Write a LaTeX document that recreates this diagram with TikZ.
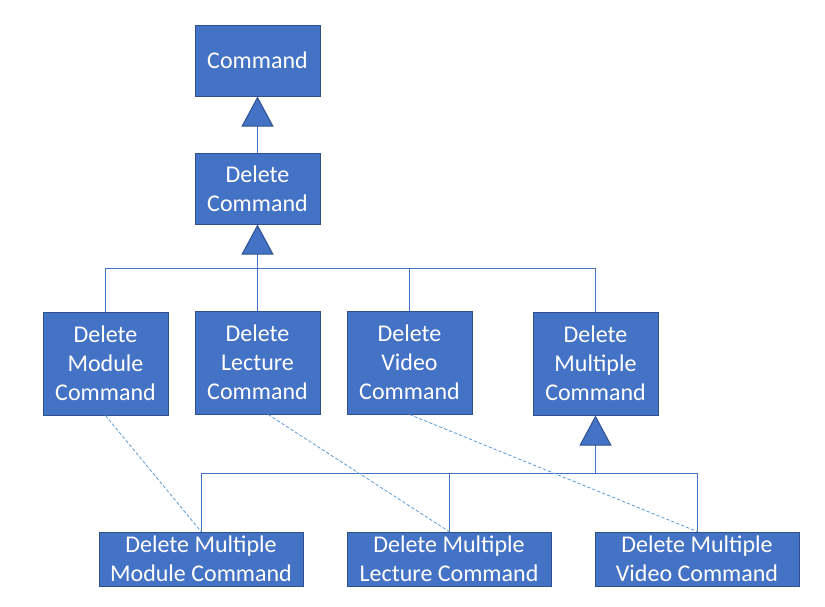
\documentclass[tikz,border=0pt]{standalone}
\usepackage{fontspec}
\setmainfont{Carlito}
\usetikzlibrary{arrows.meta}
\definecolor{boxblue}{HTML}{4472C4}
\definecolor{boxline}{HTML}{2F528F}
\definecolor{dashblue}{HTML}{5B9BD5}

\begin{document}
\begin{tikzpicture}[x=0.75pt,y=-0.75pt]
\useasboundingbox (0,0) rectangle (825,607);
\begin{scope}[every node/.style={rectangle,draw=boxline,fill=boxblue,text=white,
              line width=0.75pt,inner sep=0pt,align=center,minimum width=93.75pt,
              font=\fontsize{18}{21.75}\selectfont}]
    \node[minimum height=53.25pt] (Cmd) at (257.5,60.5) {Command};
    \node[minimum height=53.25pt] (Del) at (257.5,188.5) {Delete\\Command};
    \node[minimum height=77.25pt] (DelMod) at (105.5,363.5) {Delete\\Module\\Command};
    \node[minimum height=77.25pt] (DelLec) at (257.5,362.5) {Delete\\Lecture\\Command};
    \node[minimum height=77.25pt] (DelVid) at (409.5,362.5) {Delete\\Video\\Command};
    \node[minimum height=77.25pt] (DelMul) at (595.5,363.5) {Delete\\Multiple\\Command};
    \node[minimum width=153pt,minimum height=40.5pt] (MulMod) at (201,559) {Delete Multiple\\Module Command};
    \node[minimum width=153pt,minimum height=40.5pt] (MulLec) at (449,559) {Delete Multiple\\Lecture Command};
    \node[minimum width=153pt,minimum height=40.5pt] (MulVid) at (697,559) {Delete Multiple\\Video Command};
\end{scope}

\begin{scope}[>={Triangle[length=22.5pt,width=24pt,fill=boxblue,color=boxline]},
              color=boxblue, line width=0.75pt]
    \coordinate (B1) at (257.5,268);
    \coordinate (B2) at (595.5,473);
    \draw [->] (Del.north) -- (Cmd.south);
    \draw [->] (B1) -- (Del.south);
    \foreach \n in {DelMod,DelLec,DelVid,DelMul}
        \draw (\n.north) |- (B1);
    \draw [->] (B2) -- (DelMul.south);
    \foreach \n in {MulMod,MulLec,MulVid}
        \draw (\n.north) |- (B2);
\end{scope}

\begin{scope}[color=dashblue, line width=0.6pt, dash pattern=on 2.5pt off 1.5pt]
    \draw (DelMod.south) -- (MulMod.north);
    \draw ([xshift=8pt]DelLec.south) -- (MulLec.north);
    \draw (DelVid.south) -- (MulVid.north);
\end{scope}
\end{tikzpicture}
\end{document}
